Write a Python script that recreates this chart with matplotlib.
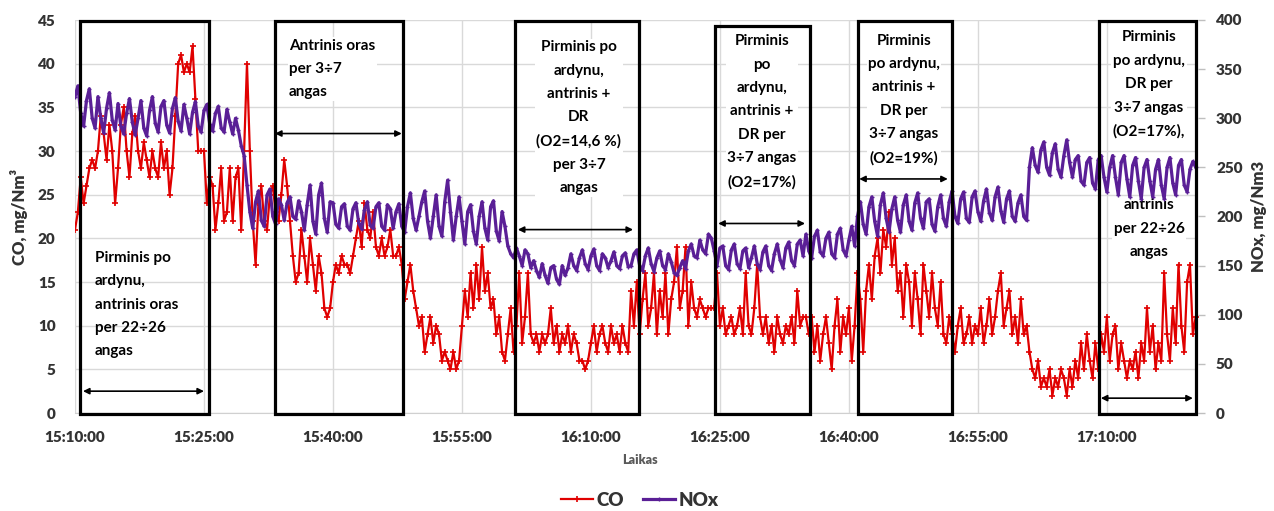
import matplotlib
matplotlib.use("Agg")
import matplotlib.pyplot as plt
import matplotlib.dates as mdates
from matplotlib.patches import Rectangle
import pandas as pd

plt.rcParams["font.family"] = ["Lato", "DejaVu Sans"]
plt.rcParams["font.weight"] = "bold"

# ---- data: 20 s samples starting 15:10:00 (one row = 5 minutes) ----
START = "2020-01-01 15:10:00"
STEP = "20s"

co = [
    21, 23, 27, 24, 26, 28, 29, 28, 30, 34, 32, 29, 33, 30, 24,
    28, 33, 35, 30, 27, 32, 34, 30, 28, 31, 29, 27, 30, 28, 27,
    31, 28, 30, 25, 28, 34, 40, 41, 39, 40, 39, 42, 36, 30, 30,
    30, 24, 27, 26, 21, 24, 28, 22, 23, 28, 22, 27, 28, 21, 30,
    40, 30, 22, 17, 24, 26, 22, 21, 25, 26, 23, 22, 25, 29, 26,
    22, 18, 15, 16, 21, 18, 15, 20, 17, 14, 18, 16, 12, 11, 12,
    15, 17, 16, 18, 17, 17, 16, 18, 20, 22, 19, 24, 21, 20, 23,
    19, 18, 20, 18, 19, 21, 18, 18, 19, 17, 13, 15, 17, 14, 12,
    10, 11, 7, 9, 11, 8, 10, 9, 6, 7, 6, 5, 7, 5, 6,
    10, 14, 11, 16, 12, 17, 13, 19, 14, 16, 12, 13, 9, 11, 7,
    6, 9, 12, 7, 10, 16, 8, 11, 16, 9, 8, 9, 7, 9, 8,
    9, 12, 8, 10, 7, 9, 8, 10, 7, 9, 8, 6, 6, 5, 6,
    8, 10, 7, 9, 10, 8, 7, 10, 8, 9, 7, 10, 8, 7, 14,
    10, 15, 9, 13, 16, 10, 12, 16, 9, 14, 11, 16, 9, 13, 15,
    19, 12, 14, 19, 10, 15, 12, 11, 13, 12, 11, 12, 12, 12, 16,
    10, 12, 9, 10, 11, 9, 10, 12, 9, 16, 10, 9, 12, 17, 11,
    9, 11, 8, 10, 7, 11, 9, 8, 10, 9, 11, 8, 14, 10, 11,
    11, 9, 11, 7, 10, 6, 9, 11, 8, 5, 10, 13, 7, 11, 9,
    12, 6, 10, 16, 13, 7, 14, 17, 13, 18, 20, 16, 21, 19, 23,
    17, 20, 14, 16, 11, 17, 15, 10, 16, 13, 9, 17, 14, 11, 16,
    12, 10, 15, 9, 8, 11, 9, 7, 10, 12, 8, 9, 11, 8, 10,
    9, 12, 8, 10, 13, 9, 11, 14, 16, 10, 12, 14, 9, 11, 8,
    13, 9, 10, 7, 5, 4, 6, 3, 4, 3, 5, 2, 4, 3, 5,
    4, 2, 5, 3, 6, 4, 8, 5, 9, 6, 4, 8, 5, 9, 7,
    11, 6, 9, 10, 5, 8, 6, 4, 6, 5, 7, 4, 8, 6, 12,
    7, 10, 5, 8, 6, 16, 9, 6, 12, 8, 17, 10, 7, 15, 17, 9, 11,
]

nox = [
    322, 333, 305, 292, 318, 330, 300, 290, 322, 300, 285, 310, 326, 298, 288,
    315, 292, 284, 305, 320, 296, 283, 300, 318, 290, 282, 308, 322, 295, 286,
    312, 318, 293, 285, 310, 321, 297, 287, 314, 300, 284, 306, 317, 292, 286,
    308, 314, 294, 287, 305, 312, 290, 286, 309, 296, 284, 300, 288, 272, 262,
    232, 205, 188, 215, 226, 196, 190, 222, 228, 200, 192, 218, 212, 196, 214,
    220, 200, 197, 216, 205, 186, 212, 232, 195, 182, 222, 234, 198, 184, 215,
    214, 192, 188, 210, 213, 190, 186, 208, 214, 193, 187, 207, 215, 191, 188,
    210, 214, 190, 186, 212, 208, 188, 205, 213, 190, 184, 210, 224, 198, 186,
    200, 215, 226, 195, 178, 200, 222, 190, 180, 215, 237, 205, 176, 200, 220,
    195, 172, 205, 212, 185, 172, 200, 215, 188, 176, 210, 216, 185, 175, 205,
    190, 170, 162, 158, 168, 160, 150, 166, 162, 148, 155, 145, 138, 152, 140,
    132, 148, 150, 136, 131, 150, 140, 148, 162, 150, 145, 158, 166, 152, 146,
    160, 167, 150, 145, 162, 158, 148, 155, 164, 150, 147, 160, 163, 149, 150,
    162, 166, 150, 145, 160, 168, 152, 144, 158, 165, 150, 146, 162, 154, 143,
    140, 148, 155, 147, 165, 172, 160, 158, 176, 166, 162, 182, 178, 165, 150,
    168, 170, 150, 146, 166, 172, 152, 147, 165, 168, 148, 158, 170, 152, 146,
    164, 170, 150, 145, 162, 172, 156, 148, 168, 174, 155, 150, 172, 176, 160,
    182, 165, 158, 180, 186, 164, 160, 178, 184, 162, 158, 182, 188, 166, 160,
    176, 190, 170, 200, 215, 192, 182, 210, 220, 195, 180, 212, 224, 198, 184,
    208, 220, 196, 184, 212, 222, 195, 186, 214, 224, 198, 188, 215, 218, 192,
    185, 210, 222, 198, 190, 215, 226, 200, 193, 218, 225, 198, 194, 220, 226,
    205, 195, 216, 228, 204, 196, 220, 230, 206, 194, 218, 226, 200, 195, 214,
    222, 200, 196, 250, 270, 252, 245, 268, 276, 250, 242, 265, 274, 248, 240,
    262, 278, 255, 240, 258, 262, 236, 232, 255, 260, 234, 228, 258, 262, 240,
    225, 250, 262, 240, 222, 255, 262, 238, 220, 252, 260, 236, 218, 250, 258,
    236, 220, 248, 258, 232, 218, 250, 260, 234, 222, 252, 258, 232, 225, 248, 256, 250,
]

co_ticks = [0, 5, 10, 15, 20, 25, 30, 35, 40, 45]
nox_ticks = [0, 50, 100, 150, 200, 250, 300, 350, 400]

# test periods: (start min, end min, box top in CO units)
periods = [
    (0.58, 15.58, 44.9),
    (23.26, 38.14, 44.9),
    (51.16, 65.58, 44.9),
    (74.42, 85.47, 44.3),
    (91.05, 101.98, 44.9),
    (119.07, 130.35, 44.9),
]
period_arrows = [
    (0.93, 15.0, 2.5),
    (23.26, 38.0, 32.0),
    (51.5, 64.9, 21.0),
    (74.8, 84.9, 21.7),
    (91.2, 101.5, 26.8),
    (119.3, 130.0, 1.7),
]

time = pd.date_range(START, periods=len(co), freq=STEP)
t0 = pd.Timestamp(START)


def tnum(minutes):
    return mdates.date2num(t0 + pd.Timedelta(minutes=minutes))


GREY = "#333333"
CO_COLOR = "#E00000"
NOX_COLOR = "#5A1F96"

fig = plt.figure(figsize=(12.74, 5.11), dpi=100)
ax = fig.add_axes([75 / 1274, 1 - 413 / 511, (1198 - 75) / 1274, (413 - 20) / 511])
ax2 = ax.twinx()

(co_line,) = ax.plot(time, co, color=CO_COLOR, lw=1.6, marker="+", ms=4,
                     mew=1.2, label="CO", zorder=2)
(nox_line,) = ax2.plot(time, nox, color=NOX_COLOR, lw=2.3, marker="+", ms=3,
                       mew=1.0, label="NOx", zorder=3)

ax.set_ylim(0, 45)
ax2.set_ylim(0, 400)
ax.set_xlim(tnum(0), tnum(130.6))
ax.set_yticks(co_ticks)
ax2.set_yticks(nox_ticks)

ax.xaxis.set_major_locator(mdates.MinuteLocator(byminute=[10, 25, 40, 55]))
ax.xaxis.set_major_formatter(mdates.DateFormatter("%H:%M:%S"))

ax.grid(True, color="#D9D9D9", lw=1.0)
ax.set_axisbelow(True)
for a in (ax, ax2):
    for s in a.spines.values():
        s.set_visible(False)
ax.spines["bottom"].set_visible(True)
ax.spines["bottom"].set_color("#D0D0D0")

ax.tick_params(axis="y", length=0, pad=14, labelsize=11, labelcolor=GREY)
ax.tick_params(axis="x", length=0, pad=13, labelsize=11, labelcolor=GREY)
ax2.tick_params(axis="y", length=5, width=1, color="#BFBFBF", pad=8,
                labelsize=11, labelcolor=GREY)
for lab in ax.get_xticklabels() + ax.get_yticklabels() + ax2.get_yticklabels():
    lab.set_fontweight("heavy")

ax.set_ylabel("CO, mg/Nm³", fontsize=12, color=GREY, labelpad=7,
              fontweight="heavy")
ax2.set_ylabel("NOx, mg/Nm3", fontsize=12, color=GREY, labelpad=6,
               fontweight="heavy")
fig.text(640 / 1274, 1 - 460 / 511, "Laikas", ha="center", va="center",
         fontsize=9, color="#595959", fontweight="heavy")

# period frames, arrows and captions (on top, in CO coordinates)
T = ax.transData
for (m0, m1, top) in periods:
    ax2.add_patch(Rectangle((tnum(m0), -0.1), tnum(m1) - tnum(m0), top + 0.1,
                            transform=T, fill=False, ec="black", lw=2.3,
                            clip_on=False, zorder=5))
for (m0, m1, y) in period_arrows:
    ax2.annotate("", xy=(tnum(m1), y), xytext=(tnum(m0), y), xycoords=T,
                 textcoords=T,
                 arrowprops=dict(arrowstyle="<|-|>", color="black", lw=1.2,
                                 mutation_scale=9, shrinkA=0, shrinkB=0),
                 zorder=5)

txt = dict(transform=T, fontsize=11, color="black", linespacing=1.85,
           zorder=1.5, fontweight="bold")
wbox = dict(facecolor="white", edgecolor="none", pad=1)
ax2.text(tnum(2.33), 12.4, "Pirminis po\nardynu,\nantrinis oras\nper 22÷26\nangas",
         ha="left", va="center", **txt)
ax2.text(tnum(24.9), 39.4, "Antrinis oras\nper 3÷7\nangas",
         ha="left", va="center", bbox=wbox, **txt)
ax2.text(tnum(58.6), 33.8,
         "Pirminis po\nardynu,\nantrinis +\nDR\n(O2=14,6 %)\nper 3÷7\nangas",
         ha="center", va="center", multialignment="center", bbox=wbox, **txt)
ax2.text(tnum(79.9), 34.5,
         "Pirminis\npo\nardynu,\nantrinis +\nDR per\n3÷7 angas\n(O2=17%)",
         ha="center", va="center", multialignment="center", bbox=wbox, **txt)
ax2.text(tnum(96.4), 35.9,
         "Pirminis\npo ardynu,\nantrinis +\nDR per\n3÷7 angas\n(O2=19%)",
         ha="center", va="center", multialignment="center", bbox=wbox, **txt)
ax2.text(tnum(124.9), 37.6,
         "Pirminis\npo ardynu,\nDR per\n3÷7 angas\n(O2=17%),",
         ha="center", va="center", multialignment="center", bbox=wbox, **txt)
ax2.text(tnum(124.9), 21.1, "antrinis\nper 22÷26\nangas",
         ha="center", va="center", multialignment="center", bbox=wbox, **txt)

leg = fig.legend(handles=[co_line, nox_line], loc="center",
                 bbox_to_anchor=(640 / 1274, 1 - 500 / 511), ncol=2,
                 frameon=False, fontsize=13.5, handlelength=1.7,
                 columnspacing=1.0, handletextpad=0.2, numpoints=1,
                 borderpad=0.1)
for t in leg.get_texts():
    t.set_color(GREY)
    t.set_fontweight("heavy")

fig.savefig("out.png", dpi=100)
